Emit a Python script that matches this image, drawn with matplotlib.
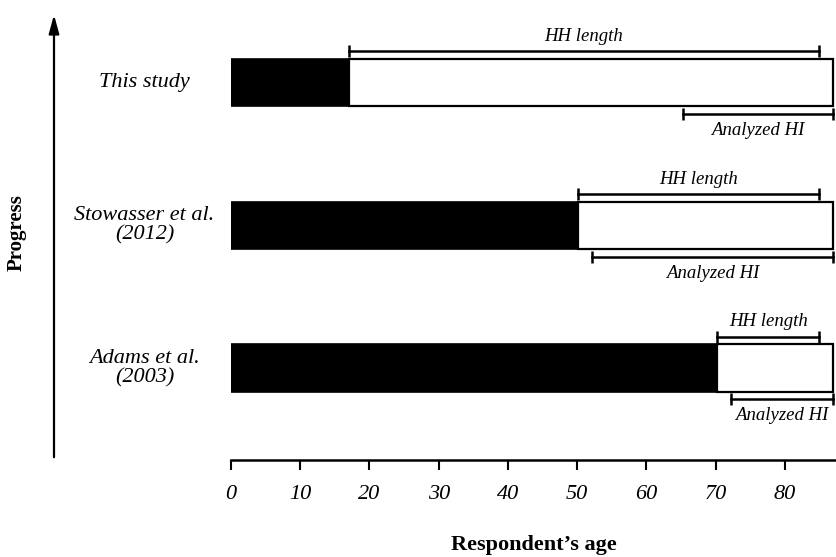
import matplotlib
matplotlib.use("Agg")
import matplotlib.pyplot as plt
from matplotlib import transforms

# data (ages in years), listed bottom to top
studies = ["Adams et al.\n(2003)", "Stowasser et al.\n(2012)", "This study"]
onset_age = [70.2, 50.2, 17.0]      # end of black segment
max_age = [87.0, 87.0, 87.0]        # end of white segment
hh_start = [70.2, 50.2, 17.0]
hh_end = [85.0, 85.0, 85.0]
hi_start = [72.2, 52.1, 65.3]
hi_end = [87.0, 87.0, 87.0]
xticks = [0, 10, 20, 30, 40, 50, 60, 70, 80]

plt.rcParams.update({"font.family": "Liberation Serif", "font.size": 14})

fig = plt.figure(figsize=(8.36, 5.57), dpi=100)
ax = fig.add_axes([0.2763, 0.1741, 0.7237, 0.8259])

ys = list(range(len(studies)))
bar_h = 0.33
off = 0.22

white = [m - o for m, o in zip(max_age, onset_age)]
ax.barh(ys, onset_age, height=bar_h, color="black", edgecolor="black", lw=1.2)
ax.barh(ys, white, left=onset_age, height=bar_h, color="white",
        edgecolor="black", lw=1.6)

for y, a, b, c, d in zip(ys, hh_start, hh_end, hi_start, hi_end):
    ax.plot([a, b], [y + off, y + off], color="black", lw=1.8,
            marker="|", ms=8, mew=1.8, clip_on=False)
    ax.plot([c, d], [y - off, y - off], color="black", lw=1.8,
            marker="|", ms=8, mew=1.8, clip_on=False)
    ax.text((a + b) / 2, y + off + 0.045, "HH length", ha="center",
            va="bottom", style="italic", fontsize=13.5)
    ax.text((c + d) / 2, y - off - 0.055, "Analyzed HI", ha="center",
            va="top", style="italic", fontsize=13.5, clip_on=False)

trans = transforms.blended_transform_factory(ax.transAxes, ax.transData)
for y, name in zip(ys, studies):
    ax.text(-0.143, y, name, transform=trans, ha="center", va="center",
            style="italic", fontsize=16, linespacing=1.0)

ax.set_xlim(0, 87.4)
ax.set_ylim(-0.645, 2.58)
for s in ["top", "right", "left"]:
    ax.spines[s].set_visible(False)
ax.spines["bottom"].set_linewidth(1.8)
ax.set_yticks([])
ax.set_xticks(xticks)
ax.set_xticklabels([str(t) for t in xticks], style="italic", fontsize=16)
ax.tick_params(axis="x", direction="out", length=7, width=1.5, pad=11)
ax.set_xlabel("Respondent’s age", fontweight="bold", fontsize=16)
ax.xaxis.set_label_coords(0.5, -0.164)

# vertical "progress" arrow
ax.annotate("", xy=(54 / 836, 1 - 12 / 557), xytext=(54 / 836, 1 - 460 / 557),
            xycoords="figure fraction", textcoords="figure fraction",
            arrowprops=dict(arrowstyle="-|>,head_length=0.8,head_width=0.22",
                            color="black", lw=1.6))
fig.text(17 / 836, 1 - 233 / 557, "Progress", rotation=90, ha="center",
         va="center", fontweight="bold", fontsize=15)

fig.savefig("out.png", dpi=100)
